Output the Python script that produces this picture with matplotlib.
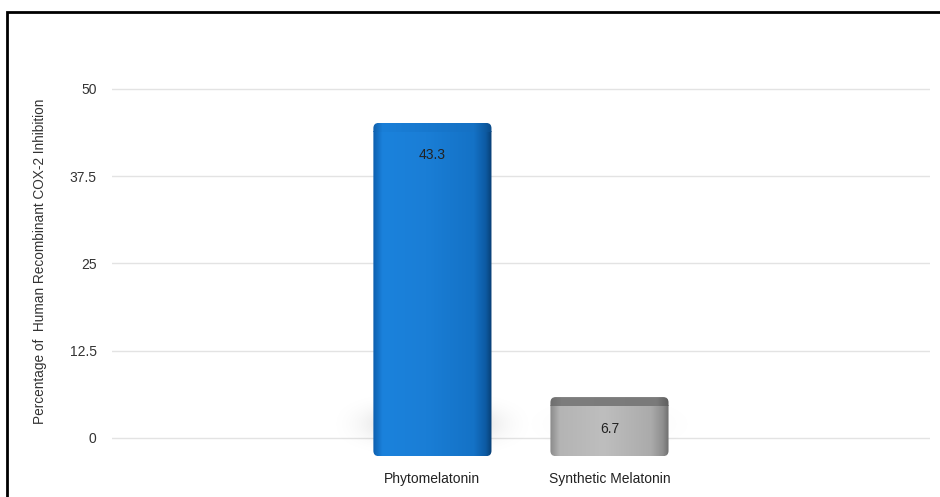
import numpy as np
import matplotlib.pyplot as plt
from matplotlib.patches import FancyBboxPatch, Rectangle
from matplotlib.colors import to_rgb

plt.rcParams['font.family'] = ['Liberation Sans', 'DejaVu Sans']

categories = ["Phytomelatonin", "Synthetic Melatonin"]
inhibition = [43.3, 6.7]
yticks = [0, 12.5, 25, 37.5, 50]
ytick_labels = ["0", "12.5", "25", "37.5", "50"]

# horizontal shading across each bar (position, colour)
body_stops = [
    [(0.0, "#0d5fae"), (0.08, "#1b82dc"), (0.45, "#1a7ed6"), (0.85, "#1472c6"), (0.95, "#0d5aa2"), (1.0, "#083e73")],
    [(0.0, "#8a8a8a"), (0.08, "#b4b4b4"), (0.45, "#bebebe"), (0.85, "#ababab"), (0.95, "#8f8f8f"), (1.0, "#6e6e6e")],
]
cap_stops = [
    [(0.0, "#0f5fab"), (0.08, "#1a7fd8"), (0.85, "#1571c4"), (0.95, "#0e5aa0"), (1.0, "#0a4a88")],
    [(0.0, "#6e6e6e"), (0.1, "#7d7d7d"), (0.9, "#7a7a7a"), (1.0, "#5e5e5e")],
]

bar_width = 0.667
base = -2.6          # front face starts a bit below the zero line
persp = 1.073        # 3d front face is slightly taller than the axis scale
cap = 1.27           # thickness of the bevelled top


def gradient(stops, n=256):
    pos = [s[0] for s in stops]
    cols = np.array([to_rgb(s[1]) for s in stops])
    t = np.linspace(0, 1, n)
    return np.stack([np.interp(t, pos, cols[:, k]) for k in range(3)], axis=-1)


fig = plt.figure(figsize=(9.4, 4.97), dpi=100)
ax = fig.add_axes([0.1191, 0.0696, 0.8702, 0.7936])

for y in yticks:
    ax.axhline(y, color="#e3e3e3", lw=1.0, zorder=1)

for i, (name, val) in enumerate(zip(categories, inhibition)):
    x0 = i - bar_width / 2
    x1 = i + bar_width / 2
    top = base + val * persp + cap

    # soft shadow around the foot of the bar, fading to nothing at its edges
    sx = np.linspace(-1, 1, 200)
    sy = np.linspace(-1, 1, 80)
    gx, gy = np.meshgrid(sx, sy)
    strength = 0.26 * min(1.0, val / 40)
    fade = np.exp(-(gx ** 2) * 3.0 - (gy ** 2) * 3.0) * (1 - gx ** 2) * (1 - gy ** 2)
    shade = np.zeros((80, 200, 4))
    shade[..., 3] = strength * fade
    ax.imshow(shade, extent=(i - 0.6, i + 0.6, -3.0, 7.0), aspect="auto",
              zorder=2, interpolation="bilinear")

    patch = FancyBboxPatch((x0, base), bar_width, top - base,
                           boxstyle="round,pad=0,rounding_size=0.03",
                           mutation_aspect=25.4, fc="none", ec="none", zorder=3)
    ax.add_patch(patch)

    body = ax.imshow(gradient(body_stops[i])[None, :, :],
                     extent=(x0, x1, base, top - cap), aspect="auto", zorder=3)
    body.set_clip_path(patch)
    lid = ax.imshow(gradient(cap_stops[i])[None, :, :],
                    extent=(x0, x1, top - cap, top), aspect="auto", zorder=3)
    lid.set_clip_path(patch)

    ax.text(i, top - 4.6, f"{val}", ha="center", va="center",
            fontsize=10, color="#222222", zorder=4)

ax.set_xlim(-1.81, 2.81)
ax.set_ylim(-3.5, 53)
ax.set_xticks(range(len(categories)))
ax.set_xticklabels(categories, fontsize=10, color="#222222")
ax.set_yticks(yticks)
ax.set_yticklabels(ytick_labels, fontsize=10, color="#333333")
ax.tick_params(length=0)
ax.tick_params(axis="y", pad=11)
ax.tick_params(axis="x", pad=7)
for s in ax.spines.values():
    s.set_visible(False)

ax.set_ylabel("Percentage of  Human Recombinant COX-2 Inhibition",
              fontsize=9.8, color="#333333")
ax.yaxis.set_label_coords(-0.079, 0.51)

# black frame, open on the right and bottom edges
fig.add_artist(Rectangle((7 / 940, -0.1), 1.2, 1 - 12 / 497 + 0.1,
                         transform=fig.transFigure, fill=False,
                         ec="black", lw=2))

fig.savefig("out.png", dpi=100)
